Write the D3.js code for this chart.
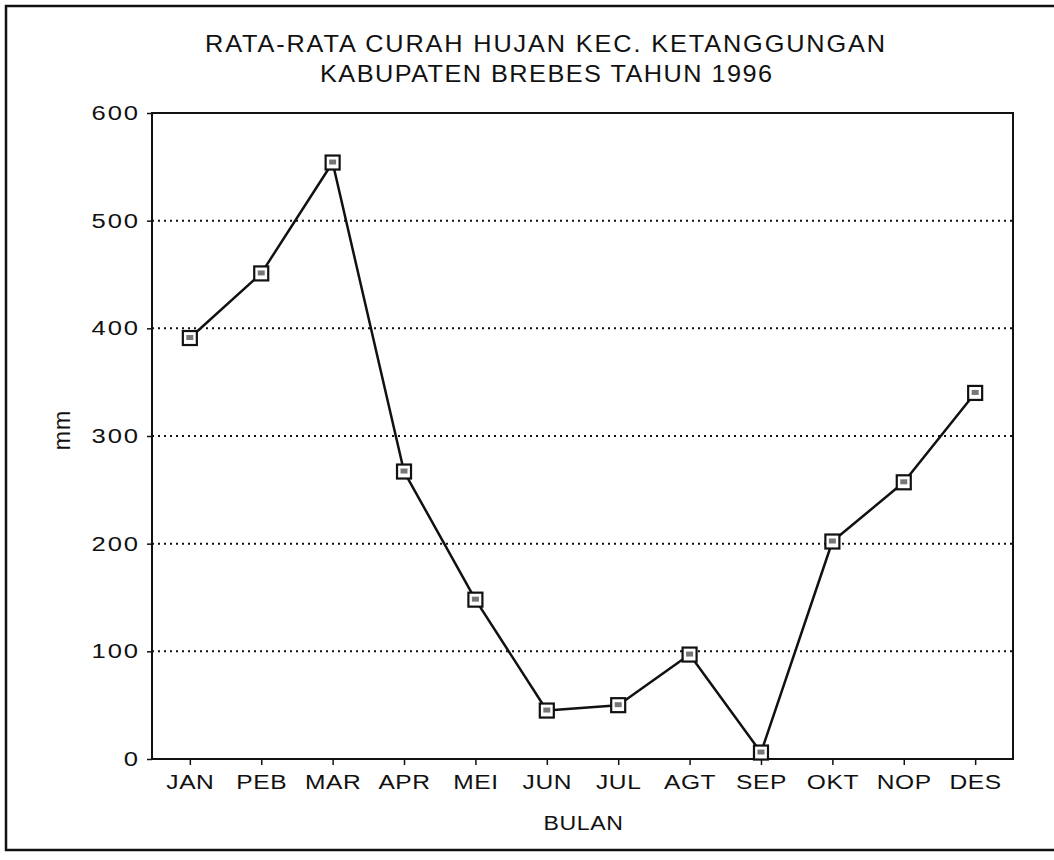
<!DOCTYPE html>
<html>
<head>
<meta charset="utf-8">
<script src="https://cdn.jsdelivr.net/npm/d3@7"></script>
<style>
  html, body { margin: 0; padding: 0; background: #fff; }
  svg { display: block; }
  text { font-family: "Liberation Sans", Arial, Helvetica, sans-serif; fill: #111; }
</style>
</head>
<body>
<svg id="chart" width="1054" height="860"></svg>
<script>
// ---- data ----
const titleLines = ["RATA-RATA CURAH HUJAN KEC. KETANGGUNGAN", "KABUPATEN BREBES TAHUN 1996"];
const months = ["JAN", "PEB", "MAR", "APR", "MEI", "JUN", "JUL", "AGT", "SEP", "OKT", "NOP", "DES"];
const rainfall = [391, 451, 554, 267, 148, 45, 50, 97, 6, 202, 257, 340];
const yTicks = [0, 100, 200, 300, 400, 500, 600];
const xTitle = "BULAN";
const yTitle = "mm";

// ---- layout ----
const svg = d3.select("#chart");
const plot = { left: 152, right: 1013, top: 113, bottom: 759 };

const x = d3.scalePoint().domain(months).range([plot.left, plot.right]).padding(0.53);
const y = d3.scaleLinear().domain([0, 600]).range([plot.bottom, plot.top]);

// outer frame (scan border)
svg.append("path")
  .attr("d", `M1054,6 L6,6 L6,850 L1054,850`)
  .attr("fill", "none").attr("stroke", "#111").attr("stroke-width", 2.5);

// title
const tSx = 1.1;
svg.append("text").attr("x", 545 / tSx).attr("y", 52).attr("text-anchor", "middle")
  .attr("transform", `scale(${tSx},1)`)
  .attr("font-size", 23).attr("textLength", 680 / tSx).attr("lengthAdjust", "spacing")
  .text(titleLines[0]);
svg.append("text").attr("x", 546 / tSx).attr("y", 82).attr("text-anchor", "middle")
  .attr("transform", `scale(${tSx},1)`)
  .attr("font-size", 23).attr("textLength", 452 / tSx).attr("lengthAdjust", "spacing")
  .text(titleLines[1]);

// dotted gridlines
svg.append("g").selectAll("line")
  .data(yTicks.filter(d => d > 0 && d < 600))
  .join("line")
  .attr("x1", plot.left).attr("x2", plot.right)
  .attr("y1", d => y(d)).attr("y2", d => y(d))
  .attr("stroke", "#111").attr("stroke-width", 2)
  .attr("stroke-dasharray", "2,4");

// y axis
const ySx = 1.28;
const yAxis = svg.append("g").attr("transform", `translate(${plot.left},0)`)
  .call(d3.axisLeft(y).tickValues(yTicks).tickSize(5).tickPadding(7));
yAxis.select(".domain").remove();
yAxis.selectAll(".tick line").attr("stroke", "#111").attr("stroke-width", 1.5);
yAxis.selectAll(".tick text")
  .attr("font-size", 20).attr("font-family", "'Liberation Sans', Arial, sans-serif")
  .style("letter-spacing", "1.5px").attr("fill", "#111")
  .attr("x", -12 / ySx).attr("transform", `scale(${ySx},1)`);

// x axis
const xSx = 1.17;
const xAxis = svg.append("g").attr("transform", `translate(0,${plot.bottom})`)
  .call(d3.axisBottom(x).tickSize(6).tickPadding(9));
xAxis.select(".domain").remove();
xAxis.selectAll(".tick line").attr("stroke", "#111").attr("stroke-width", 1.5);
xAxis.selectAll(".tick text")
  .attr("font-size", 21).attr("font-family", "'Liberation Sans', Arial, sans-serif")
  .style("letter-spacing", "0.5px").attr("fill", "#111")
  .attr("transform", `scale(${xSx},1)`);

// plot frame
svg.append("rect")
  .attr("x", plot.left).attr("y", plot.top)
  .attr("width", plot.right - plot.left).attr("height", plot.bottom - plot.top)
  .attr("fill", "none").attr("stroke", "#111").attr("stroke-width", 2);

// axis titles
const bSx = 1.1;
svg.append("text").attr("x", ((plot.left + plot.right) / 2 + 1) / bSx).attr("y", 830)
  .attr("transform", `scale(${bSx},1)`)
  .attr("text-anchor", "middle").attr("font-size", 21).style("letter-spacing", "0.5px")
  .text(xTitle);
svg.append("text").attr("transform", `translate(70,430) rotate(-90)`)
  .attr("text-anchor", "middle").attr("font-size", 23).style("letter-spacing", "1px")
  .text(yTitle);

// line
const line = d3.line().x((d, i) => x(months[i])).y(d => y(d));
svg.append("path").datum(rainfall)
  .attr("d", line).attr("fill", "none")
  .attr("stroke", "#111").attr("stroke-width", 2.5).attr("stroke-linejoin", "round");

// markers
const mk = svg.append("g").selectAll("g").data(rainfall).join("g")
  .attr("transform", (d, i) => `translate(${x(months[i])},${y(d)})`);
mk.append("rect").attr("x", -7).attr("y", -7).attr("width", 14).attr("height", 14)
  .attr("fill", "#fff").attr("stroke", "#111").attr("stroke-width", 2.2);
mk.append("rect").attr("x", -3.5).attr("y", -3).attr("width", 7).attr("height", 5)
  .attr("fill", "#777");
</script>
</body>
</html>
